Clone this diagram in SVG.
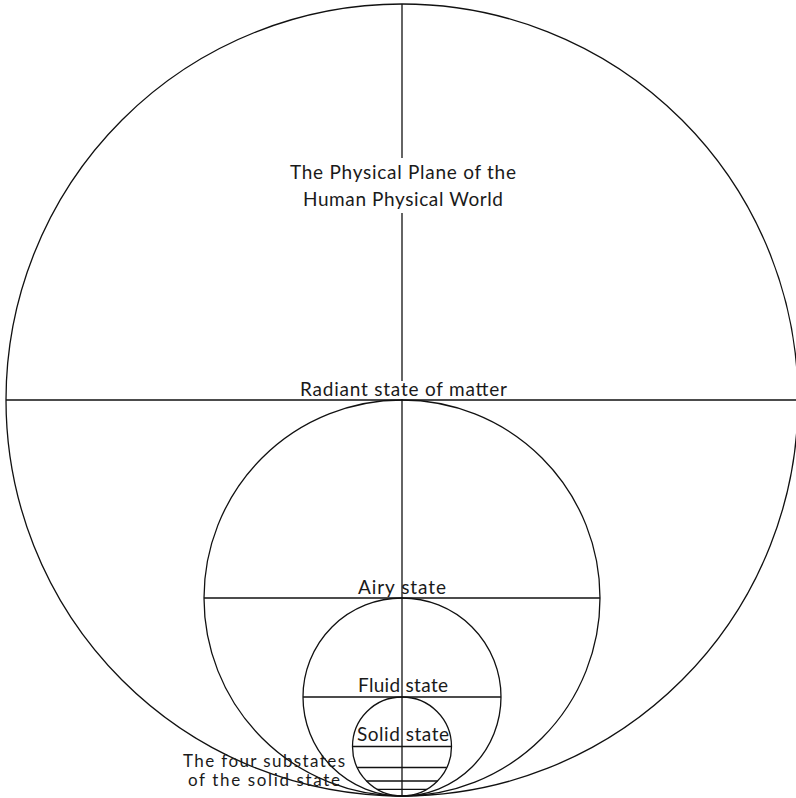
<svg xmlns="http://www.w3.org/2000/svg" width="796" height="798" viewBox="0 0 796 798">
<style>
.c{fill:none;stroke:#111;stroke-width:1.3}
.l{stroke:#111;stroke-width:1.3}
.t{font-family:Lato,"Open Sans","Liberation Sans",sans-serif;font-size:19px;fill:#1a1a1a;text-anchor:middle}
.s{font-size:17px}
</style>
<rect width="796" height="798" fill="#fff"/>
<g id="connectors">
<line class="l" x1="402" y1="4" x2="402" y2="796"/>
</g>
<g id="physical-plane">
<circle class="c" cx="402" cy="400" r="396"/>
<rect x="286" y="158" width="234" height="55" fill="#ffffff" stroke="none"/>
<text class="t" x="403" y="179" textLength="226" lengthAdjust="spacing">The Physical Plane of the</text>
<text class="t" x="403" y="206" textLength="200" lengthAdjust="spacing">Human Physical World</text>
</g>
<g id="radiant">
<line class="l" x1="6" y1="400" x2="796" y2="400"/>
<rect x="296" y="381" width="215" height="18" fill="#ffffff" stroke="none"/>
<text class="t" x="403.5" y="396" textLength="207" lengthAdjust="spacing">Radiant state of matter</text>
</g>
<g id="airy">
<circle class="c" cx="402" cy="598" r="198"/>
<line class="l" x1="204" y1="598" x2="600" y2="598"/>
<text class="t" x="402" y="594" textLength="88" lengthAdjust="spacing">Airy state</text>
</g>
<g id="fluid">
<circle class="c" cx="402" cy="697" r="99"/>
<line class="l" x1="303" y1="697" x2="501" y2="697"/>
<text class="t" x="403" y="692" textLength="90" lengthAdjust="spacing">Fluid state</text>
</g>
<g id="solid">
<circle class="c" cx="402" cy="746.5" r="49.5"/>
<line class="l" x1="352.5" y1="746.5" x2="451.5" y2="746.5"/>
<text class="t" x="403" y="741" textLength="92" lengthAdjust="spacing">Solid state</text>
</g>
<g id="substates">
<line class="l" x1="357.2" y1="767.5" x2="446.8" y2="767.5"/>
<line class="l" x1="366.5" y1="781" x2="437.5" y2="781"/>
<line class="l" x1="377" y1="789.3" x2="427" y2="789.3"/>
<text class="t s" x="264" y="767" textLength="162" lengthAdjust="spacing">The four substates</text>
<text class="t s" x="264" y="786" textLength="152" lengthAdjust="spacing">of the solid state</text>
</g>
</svg>
